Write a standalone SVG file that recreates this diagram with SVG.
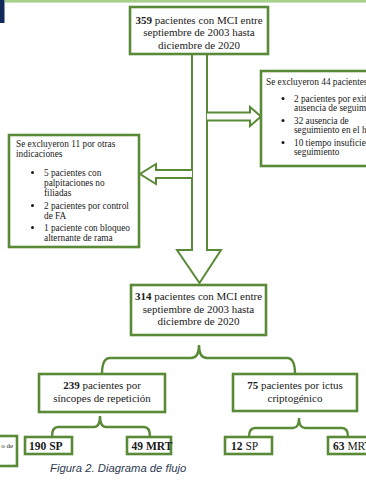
<svg xmlns="http://www.w3.org/2000/svg" width="366" height="483" viewBox="0 0 366 483">
<style>
.box{fill:#fff;stroke:#598a37;stroke-width:2.6}
.arr{fill:#fff;stroke:#598a37;stroke-width:2;stroke-linejoin:miter}
.brace{fill:none;stroke:#598a37;stroke-width:2.4}
.t{font-family:"Liberation Serif","Times New Roman",serif;fill:#1a1a1a}
.c11{font-size:11px;text-anchor:middle}
.s9{font-size:9.3px}
.b{font-weight:bold}
.dot{fill:#1a1a1a}
.cap{font-family:"Liberation Sans",Arial,sans-serif;font-style:italic;font-size:11.3px;fill:#2e3a52}
</style>
<rect x="0" y="0" width="366" height="483" fill="#fff"/>
<rect x="0" y="0" width="4.5" height="23" fill="#13295a"/>
<rect x="5" y="0" width="361" height="2.6" fill="#a8d08d"/>

<g id="connectors">
  <path class="arr" d="M192,54 V250 H177 L199.5,283 L221,250 H207 V54"/>
  <path class="arr" d="M207,112.5 H250 V107 L261,116.5 L250,126 V120.5 H207"/>
  <path class="arr" d="M192,170 H156 V164 L140,174 L156,184 V178 H192"/>
  <path class="brace" d="M102,374 Q102,358 110,358 H191 Q199,358 199,345 Q199,358 207,358 H287 Q295,358 295,374"/>
  <path class="brace" d="M52,437 Q52,427 58,427 H94 Q100,427 100,416 Q100,427 106,427 H144 Q150,427 150,437"/>
  <path class="brace" d="M249,437 Q249,428 255,428 H293 Q299,428 299,418 Q299,428 305,428 H342 Q348,428 348,437"/>
</g>

<g id="n359">
  <rect class="box" x="130" y="7" width="138" height="47"/>
  <text class="t c11" x="199" y="23.5"><tspan class="b">359</tspan> pacientes con MCI entre</text>
  <text class="t c11" x="199" y="36">septiembre de 2003 hasta</text>
  <text class="t c11" x="199" y="48.5">diciembre de 2020</text>
</g>

<g id="excl44">
  <rect class="box" x="261" y="71" width="120" height="95"/>
  <text class="t s9" x="266" y="85">Se excluyeron 44 pacientes:</text>
  <circle class="dot" cx="283" cy="98.5" r="1.5"/>
  <text class="t s9" x="294" y="102">2 pacientes por exitus o</text>
  <text class="t s9" x="294" y="111">ausencia de seguimiento</text>
  <circle class="dot" cx="283" cy="120.5" r="1.5"/>
  <text class="t s9" x="294" y="124">32 ausencia de</text>
  <text class="t s9" x="294" y="133">seguimiento en el hospital</text>
  <circle class="dot" cx="283" cy="142.5" r="1.5"/>
  <text class="t s9" x="294" y="146">10 tiempo insuficiente de</text>
  <text class="t s9" x="294" y="155">seguimiento</text>
</g>

<g id="excl11">
  <rect class="box" x="9" y="135" width="130" height="112"/>
  <text class="t s9" x="16" y="147">Se excluyeron 11 por otras</text>
  <text class="t s9" x="16" y="157">indicaciones</text>
  <circle class="dot" cx="32.5" cy="172.5" r="1.5"/>
  <text class="t s9" x="44" y="176">5 pacientes con</text>
  <text class="t s9" x="44" y="186">palpitaciones no</text>
  <text class="t s9" x="44" y="196">filiadas</text>
  <circle class="dot" cx="32.5" cy="205.5" r="1.5"/>
  <text class="t s9" x="44" y="209">2 pacientes por control</text>
  <text class="t s9" x="44" y="219">de FA</text>
  <circle class="dot" cx="32.5" cy="227.5" r="1.5"/>
  <text class="t s9" x="44" y="231">1 paciente con bloqueo</text>
  <text class="t s9" x="44" y="241">alternante de rama</text>
</g>

<g id="n314">
  <rect class="box" x="131" y="285" width="135" height="50"/>
  <text class="t c11" x="198.5" y="300"><tspan class="b">314</tspan> pacientes con MCI entre</text>
  <text class="t c11" x="198.5" y="312.5">septiembre de 2003 hasta</text>
  <text class="t c11" x="198.5" y="325">diciembre de 2020</text>
</g>

<g id="n239">
  <rect class="box" x="39" y="374" width="126" height="38"/>
  <text class="t c11" x="102" y="389"><tspan class="b">239</tspan> pacientes por</text>
  <text class="t c11" x="102" y="401.5">síncopes de repetición</text>
</g>

<g id="n75">
  <rect class="box" x="233" y="374" width="124" height="37"/>
  <text class="t c11" x="295" y="389"><tspan class="b">75</tspan> pacientes por ictus</text>
  <text class="t c11" x="295" y="401.5">criptogénico</text>
</g>

<g id="n190sp">
  <rect class="box" x="25" y="437" width="47" height="17"/>
  <text class="t b" x="29" y="450" font-size="11.5">190 SP</text>
</g>
<g id="n49mrt">
  <rect class="box" x="127" y="437" width="44" height="17"/>
  <text class="t b" x="131.5" y="450" font-size="11.5">49 MRT</text>
</g>
<g id="n12sp">
  <rect class="box" x="225" y="437" width="47" height="17"/>
  <text class="t" x="231" y="450" font-size="11.5"><tspan class="b">12</tspan> SP</text>
</g>
<g id="n63mrt">
  <rect class="box" x="328" y="437" width="50" height="17"/>
  <text class="t" x="333" y="450" font-size="11.5"><tspan class="b">63</tspan> MRT</text>
</g>

<g id="partial-left">
  <rect class="box" x="-20" y="436" width="37" height="30"/>
  <text class="t" x="13" y="448" font-size="7" text-anchor="end">o de</text>
</g>

<text class="cap" x="50" y="472">Figura 2. Diagrama de flujo</text>
</svg>
